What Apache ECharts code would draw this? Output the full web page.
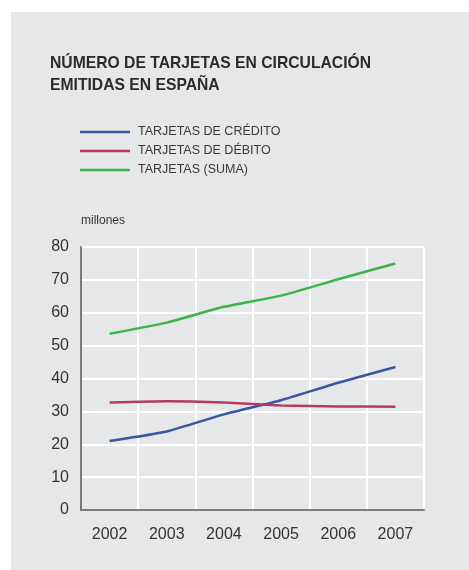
<!DOCTYPE html>
<html>
<head>
<meta charset="utf-8">
<script src="https://cdn.jsdelivr.net/npm/echarts@6/dist/echarts.min.js"></script>
<style>
	html, body { margin: 0; padding: 0; background: #ffffff; }
	#bg { position: absolute; left: 11px; top: 12px; width: 458px; height: 558px; background: #e6e7e8; }
	#chart { position: absolute; left: 0; top: 0; width: 469px; height: 570px; }
</style>
</head>
<body>
<div id="bg"></div>
<div id="chart"></div>
<script>
// datos (millones de tarjetas)
const years = ['2002', '2003', '2004', '2005', '2006', '2007'];
const credito = [21.0, 23.9, 29.1, 33.4, 38.7, 43.5];
const debito = [32.7, 33.1, 32.7, 31.8, 31.5, 31.4];
const suma = [53.6, 57.0, 61.8, 65.2, 70.2, 75.0];
const seriesNames = ['TARJETAS DE CRÉDITO', 'TARJETAS DE DÉBITO', 'TARJETAS (SUMA)'];

const font = '"Liberation Sans", Arial, sans-serif';
const myChart = echarts.init(document.getElementById('chart'));

function lineSeries(name, data, color) {
	return {
		name: name,
		type: 'line',
		data: data,
		symbol: 'none',
		smooth: 0.15,
		itemStyle: { color: color },
		lineStyle: { color: color, width: 2.5 }
	};
}

const option = {
	backgroundColor: 'transparent',
	animation: false,
	textStyle: { fontFamily: font },
	title: {
		text: 'NÚMERO DE TARJETAS EN CIRCULACIÓN\nEMITIDAS EN ESPAÑA',
		left: 50,
		top: 53,
		padding: 0,
		textStyle: {
			fontFamily: font,
			fontSize: 15.7,
			fontWeight: 'bold',
			color: '#2b2b2b',
			lineHeight: 22
		}
	},
	legend: {
		orient: 'vertical',
		left: 80,
		top: 125.5,
		padding: 0,
		icon: 'rect',
		itemWidth: 50,
		itemHeight: 2.5,
		itemGap: 6,
		data: seriesNames,
		textStyle: { fontFamily: font, fontSize: 12.5, color: '#3a3a3a', padding: [0, 0, 0, 3] }
	},
	grid: {
		left: 81,
		right: 45,
		top: 247,
		bottom: 60
	},
	xAxis: {
		type: 'category',
		data: years,
		boundaryGap: true,
		axisTick: { show: false },
		axisLine: { lineStyle: { color: '#7a7a7a', width: 2 } },
		axisLabel: { color: '#333', fontSize: 16, margin: 17 },
		splitLine: { show: true, lineStyle: { color: '#ffffff', width: 2 } }
	},
	yAxis: {
		type: 'value',
		min: 0,
		max: 80,
		interval: 10,
		name: 'millones',
		nameLocation: 'end',
		nameGap: 20,
		nameTextStyle: { color: '#333', fontSize: 12, align: 'left' },
		axisLine: { show: true, lineStyle: { color: '#7a7a7a', width: 2 } },
		axisTick: { show: false },
		axisLabel: { color: '#333', fontSize: 16, margin: 12 },
		splitLine: { lineStyle: { color: '#ffffff', width: 2 } }
	},
	series: [
		lineSeries(seriesNames[0], credito, '#3a55a0'),
		lineSeries(seriesNames[1], debito, '#b53a63'),
		lineSeries(seriesNames[2], suma, '#3bb54a')
	]
};

myChart.setOption(option);

window.addEventListener('resize', () => {
	myChart.resize();
});
</script>
</body>
</html>
